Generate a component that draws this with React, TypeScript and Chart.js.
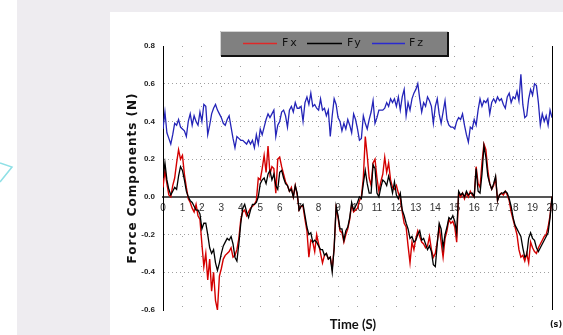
import React, { useEffect, useRef } from "react";
import { Chart, registerables } from "chart.js";

Chart.register(...registerables);

// ---- data (sampled every 0.1 s from 0 to 20 s) ----
const SAMPLE_STEP = 0.1;

const FX = [
  0.05, 0.14, 0.07, 0.01, 0.00, 0.06, 0.10, 0.18, 0.25, 0.20,
  0.22, 0.12, 0.05, -0.01, -0.03, -0.06, -0.08, -0.04, -0.10, -0.12,
  -0.25, -0.37, -0.30, -0.44, -0.33, -0.50, -0.40, -0.55, -0.60, -0.42,
  -0.38, -0.33, -0.31, -0.30, -0.29, -0.27, -0.32, -0.31, -0.28, -0.22,
  -0.12, -0.08, -0.07, -0.10, -0.08, -0.06, -0.05, -0.04, -0.02, 0.10,
  0.09, 0.15, 0.22, 0.13, 0.27, 0.12, 0.16, 0.15, 0.02, 0.20,
  0.21, 0.16, 0.12, 0.08, 0.06, 0.03, 0.05, 0.00, 0.06, 0.01,
  -0.07, -0.05, -0.05, -0.12, -0.18, -0.32, -0.23, -0.24, -0.29, -0.20,
  -0.25, -0.30, -0.35, -0.31, -0.30, -0.33, -0.32, -0.38, -0.27, -0.06,
  -0.11, -0.18, -0.19, -0.24, -0.20, -0.17, -0.12, -0.04, -0.08, -0.07,
  -0.06, -0.02, 0.00, 0.10, 0.32, 0.22, 0.10, 0.06, 0.18, 0.20,
  0.10, 0.03, 0.08, 0.12, 0.21, 0.13, 0.18, 0.09, 0.05, 0.04,
  0.06, 0.02, -0.01, -0.08, -0.14, -0.16, -0.26, -0.35, -0.24, -0.28,
  -0.22, -0.18, -0.21, -0.24, -0.25, -0.27, -0.26, -0.21, -0.28, -0.32,
  -0.30, -0.24, -0.16, -0.24, -0.32, -0.22, -0.18, -0.12, -0.14, -0.13,
  -0.16, -0.24, 0.02, 0.00, 0.02, -0.01, 0.02, 0.00, 0.03, 0.01,
  0.00, 0.16, 0.07, 0.05, 0.18, 0.28, 0.25, 0.14, 0.07, 0.04,
  0.06, 0.10, -0.02, 0.01, 0.02, 0.01, 0.03, 0.01, -0.02, -0.08,
  -0.12, -0.16, -0.20, -0.28, -0.32, -0.31, -0.34, -0.30, -0.35, -0.24,
  -0.27, -0.29, -0.30, -0.27, -0.25, -0.23, -0.21, -0.20, -0.16, -0.10,
  0.00,
];

const FY = [
  0.10, 0.18, 0.09, 0.04, 0.01, 0.03, 0.05, 0.04, 0.11, 0.16,
  0.14, 0.09, 0.03, 0.00, -0.02, -0.03, -0.05, -0.07, -0.07, -0.09,
  -0.17, -0.14, -0.14, -0.20, -0.27, -0.30, -0.28, -0.35, -0.39, -0.35,
  -0.30, -0.26, -0.24, -0.22, -0.23, -0.21, -0.25, -0.32, -0.34, -0.25,
  -0.14, -0.06, -0.04, -0.08, -0.11, -0.07, -0.04, -0.04, -0.03, 0.00,
  0.07, 0.09, 0.10, 0.07, 0.12, 0.14, 0.09, 0.12, 0.06, 0.04,
  0.13, 0.14, 0.10, 0.07, 0.06, 0.03, 0.04, 0.00, 0.06, 0.02,
  -0.07, -0.05, -0.04, -0.10, -0.16, -0.20, -0.19, -0.24, -0.23, -0.24,
  -0.26, -0.28, -0.28, -0.31, -0.30, -0.33, -0.32, -0.40, -0.27, -0.05,
  -0.10, -0.17, -0.17, -0.23, -0.18, -0.16, -0.11, -0.03, -0.07, -0.05,
  -0.03, 0.00, -0.01, 0.07, 0.14, 0.07, 0.02, 0.02, 0.17, 0.15,
  0.02, 0.00, 0.05, 0.09, 0.08, 0.06, 0.11, 0.07, 0.02, 0.08,
  0.01, -0.01, 0.02, -0.07, -0.10, -0.14, -0.17, -0.22, -0.21, -0.24,
  -0.23, -0.20, -0.18, -0.23, -0.22, -0.25, -0.28, -0.26, -0.29, -0.36,
  -0.37, -0.25, -0.14, -0.17, -0.27, -0.20, -0.16, -0.11, -0.12, -0.10,
  -0.13, -0.19, 0.03, 0.01, 0.02, 0.00, 0.03, 0.01, 0.02, 0.02,
  0.00, 0.15, 0.03, 0.02, 0.12, 0.27, 0.21, 0.11, 0.07, 0.04,
  0.07, 0.11, -0.02, 0.01, 0.02, 0.02, 0.03, 0.02, -0.01, -0.05,
  -0.11, -0.15, -0.17, -0.19, -0.21, -0.27, -0.32, -0.31, -0.22, -0.19,
  -0.22, -0.23, -0.27, -0.29, -0.27, -0.25, -0.23, -0.21, -0.19, -0.11,
  0.00,
];

const FZ = [
  0.36, 0.45, 0.34, 0.31, 0.28, 0.33, 0.39, 0.38, 0.41, 0.37,
  0.36, 0.35, 0.32, 0.40, 0.44, 0.38, 0.43, 0.40, 0.38, 0.45,
  0.40, 0.49, 0.48, 0.33, 0.38, 0.44, 0.47, 0.49, 0.46, 0.44,
  0.42, 0.39, 0.38, 0.41, 0.43, 0.37, 0.31, 0.26, 0.32, 0.31,
  0.30, 0.30, 0.29, 0.28, 0.30, 0.28, 0.30, 0.26, 0.33, 0.28,
  0.36, 0.33, 0.37, 0.41, 0.44, 0.42, 0.44, 0.46, 0.32, 0.38,
  0.40, 0.45, 0.46, 0.43, 0.37, 0.46, 0.48, 0.45, 0.50, 0.47,
  0.47, 0.48, 0.40, 0.50, 0.53, 0.49, 0.55, 0.48, 0.49, 0.47,
  0.46, 0.52, 0.46, 0.47, 0.43, 0.46, 0.32, 0.43, 0.52, 0.49,
  0.42, 0.40, 0.35, 0.39, 0.36, 0.41, 0.38, 0.34, 0.44, 0.41,
  0.36, 0.30, 0.31, 0.43, 0.39, 0.36, 0.41, 0.45, 0.51, 0.39,
  0.42, 0.46, 0.46, 0.46, 0.47, 0.50, 0.48, 0.52, 0.50, 0.52,
  0.48, 0.53, 0.46, 0.53, 0.57, 0.43, 0.50, 0.46, 0.52, 0.55,
  0.57, 0.60, 0.52, 0.45, 0.50, 0.48, 0.53, 0.51, 0.48, 0.39,
  0.48, 0.52, 0.44, 0.39, 0.45, 0.51, 0.41, 0.38, 0.37, 0.37,
  0.36, 0.40, 0.42, 0.41, 0.44, 0.38, 0.33, 0.29, 0.37, 0.36,
  0.41, 0.38, 0.46, 0.52, 0.48, 0.51, 0.50, 0.52, 0.44, 0.50,
  0.52, 0.50, 0.53, 0.51, 0.52, 0.49, 0.47, 0.53, 0.55, 0.50,
  0.53, 0.52, 0.56, 0.51, 0.65, 0.49, 0.42, 0.43, 0.52, 0.57,
  0.54, 0.60, 0.59, 0.50, 0.38, 0.44, 0.40, 0.43, 0.38, 0.46,
  0.42,
];

const SERIES_NAMES = ["Fx", "Fy", "Fz"];
const SERIES_COLORS = ["#d40000", "#000000", "#2424b8"];
const X_MIN = 0;
const X_MAX = 20;
const X_STEP = 1;
const Y_MIN = -0.6;
const Y_MAX = 0.8;
const Y_STEP = 0.2;
const Y_TITLE = "Force Components (N)";
const X_TITLE = "Time (S)";
const CORNER_NOTE = "(s)";

const toPoints = (arr: number[]) =>
  arr.map((y, i) => ({ x: Math.round(i * SAMPLE_STEP * 10) / 10, y }));

const near = (a: number, b: number) => Math.abs(a - b) < 1e-6;

const decorPlugin = {
  id: "decor",
  afterDraw(chart: any) {
    const { ctx, chartArea: ca } = chart;
    ctx.save();
    // right frame line
    ctx.strokeStyle = "#000";
    ctx.lineWidth = 1;
    const rx = Math.round(ca.right) + 0.5;
    ctx.beginPath();
    ctx.moveTo(rx, ca.top);
    ctx.lineTo(rx, ca.bottom);
    ctx.stroke();

    // y title
    ctx.save();
    ctx.translate(133, (ca.top + ca.bottom) / 2);
    ctx.rotate(-Math.PI / 2);
    ctx.fillStyle = "#111";
    ctx.font = "bold 12px 'DejaVu Sans'";
    (ctx as any).letterSpacing = "1px";
    ctx.textAlign = "center";
    ctx.textBaseline = "middle";
    ctx.fillText(Y_TITLE, 0, 0);
    ctx.restore();

    // x title
    ctx.fillStyle = "#111";
    ctx.font = "bold 13px Lato";
    ctx.textAlign = "center";
    ctx.textBaseline = "middle";
    ctx.fillText(X_TITLE, 353, 325);

    ctx.font = "bold 8px 'DejaVu Sans'";
    ctx.fillText(CORNER_NOTE, 556, 325);

    // legend box
    const lx = 220, ly = 31, lw = 228, lh = 25;
    ctx.fillStyle = "#808080";
    ctx.fillRect(lx, ly, lw, lh);
    ctx.strokeStyle = "#d4d4d4";
    ctx.lineWidth = 1;
    ctx.beginPath();
    ctx.moveTo(lx + 0.5, ly + lh);
    ctx.lineTo(lx + 0.5, ly + 0.5);
    ctx.lineTo(lx + lw, ly + 0.5);
    ctx.stroke();
    ctx.strokeStyle = "#111";
    ctx.lineWidth = 2;
    ctx.beginPath();
    ctx.moveTo(lx + 1, ly + lh);
    ctx.lineTo(lx + lw, ly + lh);
    ctx.lineTo(lx + lw, ly + 1);
    ctx.stroke();

    const items = [
      { x0: 243, x1: 277, tx: 282 },
      { x0: 307, x1: 342, tx: 347 },
      { x0: 372, x1: 405, tx: 409 },
    ];
    const cy = ly + 12.5;
    items.forEach((it, i) => {
      ctx.strokeStyle = i === 0 ? "#e02828" : i === 2 ? "#2a2ad0" : "#000";
      ctx.lineWidth = 1.5;
      ctx.beginPath();
      ctx.moveTo(it.x0, cy);
      ctx.lineTo(it.x1, cy);
      ctx.stroke();
      ctx.fillStyle = "#111";
      ctx.font = "11px 'DejaVu Sans'";
      (ctx as any).letterSpacing = "2px";
      ctx.textAlign = "left";
      ctx.textBaseline = "middle";
      ctx.fillText(SERIES_NAMES[i], it.tx, cy);
    });
    ctx.restore();
  },
};

export default function App() {
  const ref = useRef<HTMLCanvasElement | null>(null);

  useEffect(() => {
    if (!ref.current) return;
    const chart = new Chart(ref.current, {
      type: "line",
      data: {
        datasets: [
          {
            label: SERIES_NAMES[1],
            data: toPoints(FY),
            borderColor: SERIES_COLORS[1],
            borderWidth: 1.3,
            pointRadius: 0,
            order: 0,
          },
          {
            label: SERIES_NAMES[0],
            data: toPoints(FX),
            borderColor: SERIES_COLORS[0],
            borderWidth: 1.4,
            pointRadius: 0,
            order: 1,
          },
          {
            label: SERIES_NAMES[2],
            data: toPoints(FZ),
            borderColor: SERIES_COLORS[2],
            borderWidth: 1.3,
            pointRadius: 0,
            order: 2,
          },
        ],
      },
      options: {
        animation: false,
        responsive: false,
        maintainAspectRatio: false,
        layout: { padding: { top: 46, right: 11, bottom: 25, left: 0 } },
        plugins: {
          legend: { display: false },
          tooltip: { enabled: false },
        },
        elements: { line: { tension: 0 } },
        scales: {
          x: {
            type: "linear",
            min: X_MIN,
            max: X_MAX,
            position: { y: 0 } as any,
            ticks: {
              stepSize: X_STEP,
              autoSkip: false,
              maxRotation: 0,
              padding: 5,
              color: "#333",
              font: { family: "'Liberation Sans'", size: 10 },
              callback: (v: any) => String(v),
            },
            grid: {
              drawTicks: false,
              lineWidth: 1,
              color: (c: any) =>
                c.tick && (near(c.tick.value, X_MIN) || near(c.tick.value, X_MAX))
                  ? "rgba(0,0,0,0)"
                  : "#a0a0a0",
            },
            border: { display: true, color: "#555", width: 2, dash: [1, 9] },
          },
          y: {
            type: "linear",
            min: Y_MIN,
            max: Y_MAX,
            position: "left",
            afterFit: (s: any) => {
              s.width = 163;
            },
            ticks: {
              stepSize: Y_STEP,
              padding: 8,
              color: "#222",
              font: { family: "'Liberation Sans'", size: 8, weight: "bold" },
              callback: (v: any) => Number(v).toFixed(1),
            },
            grid: {
              drawTicks: false,
              lineWidth: 1,
              color: (c: any) =>
                c.tick &&
                (near(c.tick.value, 0) || near(c.tick.value, Y_MAX) || near(c.tick.value, Y_MIN))
                  ? "rgba(0,0,0,0)"
                  : "#a0a0a0",
            },
            border: { display: true, color: "#000", width: 1, dash: [1, 3] },
          },
        },
      },
      plugins: [decorPlugin],
    });
    return () => chart.destroy();
  }, []);

  return (
    <div
      style={{
        position: "absolute",
        left: 0,
        top: 0,
        width: 563,
        height: 335,
        background: "#ffffff",
        overflow: "hidden",
      }}
    >
      <div style={{ position: "absolute", left: 17, top: 0, width: 546, height: 335, background: "#eeecf0" }} />
      <div style={{ position: "absolute", left: 110, top: 12, width: 453, height: 323, background: "#ffffff" }} />
      <svg width={20} height={40} style={{ position: "absolute", left: 0, top: 155 }}>
        <polyline points="0,8 12,12 0,27" fill="none" stroke="#8fe0e6" strokeWidth={1.5} />
      </svg>
      <canvas ref={ref} width={563} height={335} style={{ position: "absolute", left: 0, top: 0, width: 563, height: 335 }} />
    </div>
  );
}
